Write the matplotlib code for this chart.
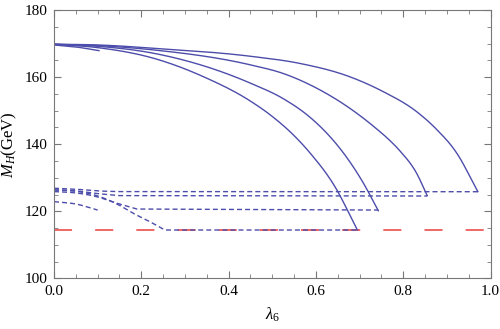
import numpy as np
import matplotlib.pyplot as plt
from matplotlib.ticker import MultipleLocator

plt.rcParams['font.family'] = ['Liberation Serif', 'DejaVu Serif']
plt.rcParams['mathtext.fontset'] = 'custom'
plt.rcParams['mathtext.rm'] = 'Liberation Serif'
plt.rcParams['mathtext.it'] = 'Liberation Serif:italic'

# solid curves (upper branch)
solid_a_x = [0, 0.1, 0.229, 0.458, 0.563, 0.678, 0.754, 0.831, 0.876, 0.922, 0.971]
solid_a_y = [169.8, 169.6, 168.6, 166.1, 164.1, 160.1, 155.7, 149.7, 144.5, 137.5, 125.9]
solid_b_x = [0, 0.1, 0.229, 0.452, 0.525, 0.602, 0.678, 0.739, 0.768, 0.792, 0.831, 0.855]
solid_b_y = [169.8, 169.4, 168.1, 163.6, 161.1, 156.7, 150.7, 144.6, 141.3, 138.1, 131.3, 124.7]
solid_c_x = [0, 0.1, 0.229, 0.452, 0.525, 0.586, 0.630, 0.662, 0.708, 0.743]
solid_c_y = [169.8, 169.2, 167.1, 158.1, 153.6, 148.1, 142.6, 137.6, 128.6, 120.2]
solid_d_x = [0, 0.1, 0.229, 0.343, 0.452, 0.495, 0.556, 0.586, 0.643, 0.695]
solid_d_y = [169.8, 168.8, 165.6, 160.1, 152.7, 148.8, 141.8, 137.5, 127.5, 114.45]
solid_e_x = [0, 0.05, 0.103]
solid_e_y = [169.6, 169.0, 167.9]

# dashed curves (lower branch): bending part, then flat part up to the end
dash_a_x = [0, 0.05, 0.1, 0.15, 0.971]
dash_a_y = [126.9, 126.6, 126.1, 125.9, 125.86]
dash_b_x = [0, 0.05, 0.1, 0.15, 0.855]
dash_b_y = [126.4, 126.1, 125.3, 124.7, 124.58]
dash_c_x = [0, 0.05, 0.1, 0.14, 0.19, 0.743]
dash_c_y = [125.9, 125.5, 124.3, 122.6, 120.7, 120.4]
dash_d_x = [0, 0.05, 0.1, 0.15, 0.182, 0.22, 0.254, 0.695]
dash_d_y = [126.4, 126.0, 124.6, 121.8, 119.4, 116.9, 114.45, 114.45]
dash_e_x = [0, 0.05, 0.1]
dash_e_y = [122.9, 122.2, 120.4]

lep_bound = 114.4

blue = '#4d4dab'
red = '#f05a5a'


def hermite(x, y, n=400):
    # cubic Hermite through the read-off points, 3-point slopes
    x = np.asarray(x, float)
    y = np.asarray(y, float)
    h = np.diff(x)
    d = np.diff(y) / h
    m = np.empty_like(y)
    m[0], m[-1] = d[0], d[-1]
    m[1:-1] = (d[:-1] * h[1:] + d[1:] * h[:-1]) / (h[:-1] + h[1:])
    xs = np.linspace(x[0], x[-1], n)
    i = np.clip(np.searchsorted(x, xs) - 1, 0, len(x) - 2)
    t = (xs - x[i]) / h[i]
    h00 = 2 * t**3 - 3 * t**2 + 1
    h10 = t**3 - 2 * t**2 + t
    h01 = -2 * t**3 + 3 * t**2
    h11 = t**3 - t**2
    ys = h00 * y[i] + h10 * h[i] * m[i] + h01 * y[i + 1] + h11 * h[i] * m[i + 1]
    return xs, ys


def bend_then_flat(x, y):
    # smooth the bend, keep the last stretch straight
    xs, ys = hermite(x[:-1], y[:-1], 200)
    return np.append(xs, x[-1]), np.append(ys, y[-1])


fig = plt.figure(figsize=(5, 3.29), dpi=100)
ax = fig.add_axes([0.108, 0.1535, 0.873, 0.816])

ax.axhline(lep_bound, color=red, lw=1.3, dashes=(10, 12.8), zorder=1)

for x, y in [(solid_a_x, solid_a_y), (solid_b_x, solid_b_y), (solid_c_x, solid_c_y),
             (solid_d_x, solid_d_y), (solid_e_x, solid_e_y)]:
    ax.plot(*hermite(x, y), color=blue, lw=1.0)

for x, y in [(dash_a_x, dash_a_y), (dash_b_x, dash_b_y), (dash_c_x, dash_c_y),
             (dash_d_x, dash_d_y)]:
    ax.plot(*bend_then_flat(x, y), color=blue, lw=1.0, dashes=(3.6, 2.2))
ax.plot(*hermite(dash_e_x, dash_e_y), color=blue, lw=1.0, dashes=(3.6, 2.2))

ax.set_xlim(0, 1.0)
ax.set_ylim(100, 180)
ax.xaxis.set_major_locator(MultipleLocator(0.2))
ax.xaxis.set_minor_locator(MultipleLocator(0.05))
ax.yaxis.set_major_locator(MultipleLocator(20))
ax.yaxis.set_minor_locator(MultipleLocator(5))
ax.xaxis.set_major_formatter(plt.FuncFormatter(lambda v, p: '%.1f' % v))
ax.tick_params(which='both', direction='in', top=True, right=True, color='#777777',
               labelsize=11, pad=5)
ax.tick_params(which='major', length=5)
ax.tick_params(which='minor', length=3)
for s in ax.spines.values():
    s.set_color('#777777')

ax.set_xlabel(r'$\lambda_6$', fontsize=12, labelpad=5)
ax.set_ylabel(r'$M_H$(GeV)', fontsize=12, labelpad=4)

fig.savefig('out.png', dpi=100)
